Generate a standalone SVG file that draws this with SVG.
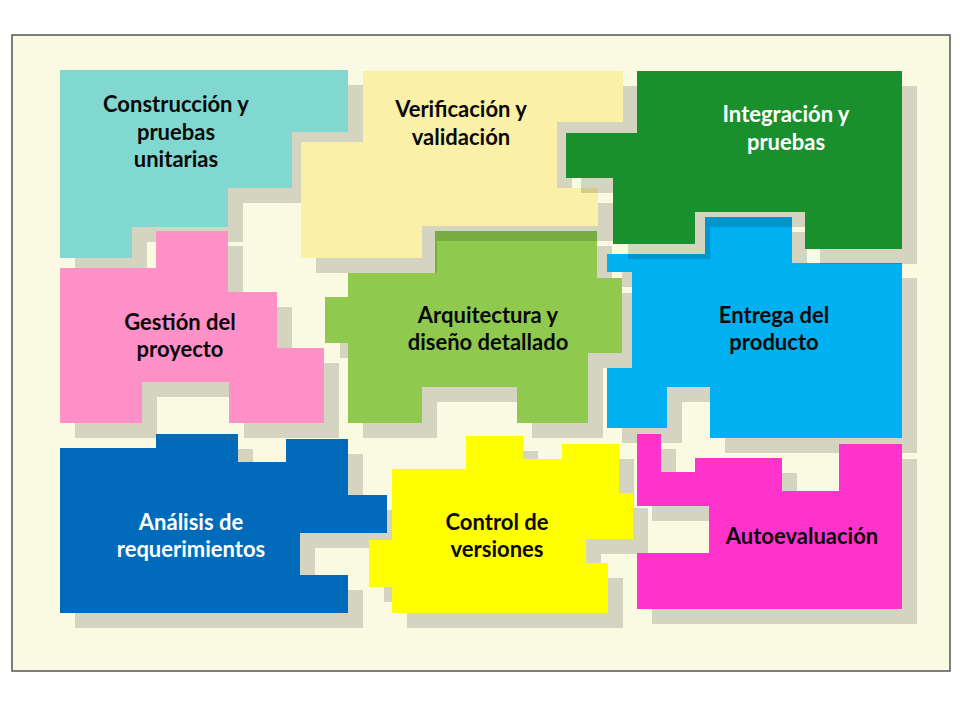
<svg xmlns="http://www.w3.org/2000/svg" width="960" height="720" viewBox="0 0 960 720">
  <style>
    .sh { fill: #000; fill-opacity: 0.15; }
    .lbl { font-family: Lato, "Open Sans", "Liberation Sans", sans-serif; font-weight: bold; font-size: 22px; text-anchor: middle; fill: #0a0a0a; }
    .wt { fill: #fff; }
  </style>
  <defs>
    <polygon id="p-cyan" points="60,70 348,70 348,132 292,132 292,188 228,188 228,227 132,227 132,258 60,258"/>
    <polygon id="p-pink" points="156,231 228,231 228,292 277,292 277,348 324,348 324,423 229,423 229,382 142,382 142,423 60,423 60,268 156,268"/>
    <polygon id="p-anal" points="60,448 156,448 156,434 238,434 238,462 286,462 286,439 348,439 348,495 387,495 387,533 300,533 300,575 348,575 348,613 60,613"/>
    <polygon id="p-ctrl" points="466,436 523,436 523,459 562,459 562,444 619,444 619,493 633,493 633,539 586,539 586,563 608,563 608,613 392,613 392,587 369,587 369,540 392,540 392,469 466,469"/>
    <polygon id="p-arq" points="435,231 597,231 597,278 622,278 622,353 588,353 588,423 517,423 517,387 422,387 422,423 348,423 348,343 325,343 325,297 348,297 348,273 435,273"/>
    <polygon id="p-ver" points="363,71 623,71 623,122 557,122 557,188 598,188 598,226 422,226 422,258 301,258 301,142 363,142"/>
    <polygon id="p-ent" points="705,217 792,217 792,263 902,263 902,438 710,438 710,387 667,387 667,428 607,428 607,368 632,368 632,272 607,272 607,254 705,254"/>
    <polygon id="p-int" points="637,71 902,71 902,249 805,249 805,212 695,212 695,244 613,244 613,178 566,178 566,133 637,133"/>
    <polygon id="p-auto" points="637,434 661,434 661,472 695,472 695,458 782,458 782,491 839,491 839,444 902,444 902,609 637,609 637,553 709,553 709,506 637,506"/>
  </defs>
  <rect x="0" y="0" width="960" height="720" fill="#ffffff"/>
  <rect x="12" y="35" width="938" height="636" fill="#FAFAE2" stroke="#555555" stroke-width="1.5"/>

  <g id="construccion">
    <use href="#p-cyan" class="sh" transform="translate(15,15)"/>
    <use href="#p-cyan" fill="#80D8D0"/>
    <text class="lbl" x="176" y="112">Construcción y</text>
    <text class="lbl" x="176" y="140">pruebas</text>
    <text class="lbl" x="176" y="167">unitarias</text>
  </g>
  <g id="gestion">
    <use href="#p-pink" class="sh" transform="translate(15,15)"/>
    <use href="#p-pink" fill="#FF90C8"/>
    <text class="lbl" x="180" y="330">Gestión del</text>
    <text class="lbl" x="180" y="357">proyecto</text>
  </g>
  <g id="analisis">
    <use href="#p-anal" class="sh" transform="translate(15,15)"/>
    <use href="#p-anal" fill="#006BBB"/>
    <text class="lbl wt" x="191" y="530">Análisis de</text>
    <text class="lbl wt" x="191" y="557">requerimientos</text>
  </g>
  <g id="control">
    <use href="#p-ctrl" class="sh" transform="translate(15,15)"/>
    <use href="#p-ctrl" fill="#FFFF00"/>
    <text class="lbl" x="497" y="530">Control de</text>
    <text class="lbl" x="497" y="557">versiones</text>
  </g>
  <g id="arquitectura">
    <use href="#p-arq" class="sh" transform="translate(15,15)"/>
    <use href="#p-arq" fill="#8FCA4E"/>
    <text class="lbl" x="488" y="323">Arquitectura y</text>
    <text class="lbl" x="488" y="350">diseño detallado</text>
  </g>
  <g id="verificacion">
    <use href="#p-ver" class="sh" transform="translate(15,15)"/>
    <use href="#p-ver" fill="#FAF0A8"/>
    <text class="lbl" x="461" y="117">Verificación y</text>
    <text class="lbl" x="461" y="145">validación</text>
  </g>
  <g id="entrega">
    <use href="#p-ent" class="sh" transform="translate(15,15)"/>
    <use href="#p-ent" fill="#00B0F0"/>
    <text class="lbl" x="774" y="323">Entrega del</text>
    <text class="lbl" x="774" y="350">producto</text>
  </g>
  <g id="integracion">
    <use href="#p-int" class="sh" transform="translate(15,15)"/>
    <use href="#p-int" fill="#1A8F2E"/>
    <text class="lbl wt" x="786" y="122">Integración y</text>
    <text class="lbl wt" x="786" y="150">pruebas</text>
  </g>
  <g id="autoevaluacion">
    <use href="#p-auto" class="sh" transform="translate(15,15)"/>
    <use href="#p-auto" fill="#FF33CC"/>
    <text class="lbl" x="802" y="544">Autoevaluación</text>
  </g>
  <g id="connectors"></g>
</svg>
